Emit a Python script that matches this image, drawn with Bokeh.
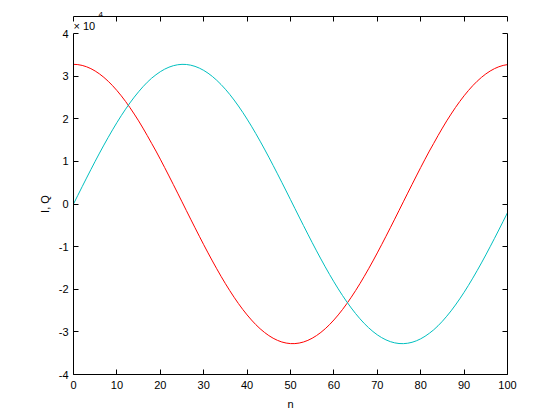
from bokeh.plotting import figure
from bokeh.models import Range1d, LinearAxis, FixedTicker, Title
from bokeh.embed import file_html
from bokeh.resources import INLINE

n = list(range(101))

I_vals = [
    32767, 32704, 32514, 32198, 31758, 31195, 30511, 29710, 28793, 27765,
    26629, 25390, 24053, 22623, 21098, 19507, 17810, 16054, 14233, 12422,
    10513, 8563, 6579, 4571, 2545, 510, -1528, -3560, -5579, -7575,
    -9542, -11472, -13358, -15193, -16969, -18679, -20317, -21876, -23349, -24733,
    -26022, -27209, -28292, -29265, -30124, -30868, -31491, -31993, -32372, -32624,
    -32751,
    -32751, -32624, -32372, -31993, -31491, -30868, -30124, -29265, -28292, -27209,
    -26022, -24733, -23349, -21876, -20317, -18679, -16969, -15193, -13358, -11472,
    -9542, -7575, -5579, -3560, -1528, 510, 2545, 4571, 6579, 8563,
    10513, 12422, 14233, 16054, 17810, 19507, 21098, 22623, 24053, 25390,
    26629, 27765, 28793, 29710, 30511, 31195, 31758, 32198, 32514, 32704,
]

Q_vals = [
    0, 2037, 4067, 6080, 8070, 10028, 11948, 13821, 15641, 17401,
    19094, 20713, 22251, 23704, 25071, 26329, 27505, 28565, 29516, 30321,
    31035, 31629, 32100, 32447, 32668, 32763, 32731, 32573, 32289, 31879,
    31347, 30693, 29920, 29032, 28031, 26921, 25708, 24395, 22990, 21494,
    19913, 18257, 16530, 14740, 12892, 10994, 9054, 7078, 5076, 3054,
    1019,
    -1019, -3054, -5076, -7078, -9054, -10994, -12892, -14740, -16530, -18257,
    -19913, -21494, -22990, -24395, -25708, -26921, -28031, -29032, -29920, -30693,
    -31347, -31879, -32289, -32573, -32731, -32763, -32668, -32447, -32100, -31629,
    -31035, -30321, -29516, -28565, -27505, -26329, -25071, -23704, -22251, -20713,
    -19094, -17401, -15641, -13821, -11948, -10028, -8070, -6080, -4067, -2037,
]

x_ticks = [0, 10, 20, 30, 40, 50, 60, 70, 80, 90, 100]
y_ticks = [-40000, -30000, -20000, -10000, 0, 10000, 20000, 30000, 40000]
y_tick_labels = ["-4", "-3", "-2", "-1", "0", "1", "2", "3", "4"]

FONT = "Liberation Sans"

p = figure(width=552, height=412, output_backend="svg", toolbar_location=None,
           x_range=Range1d(0, 100), y_range=Range1d(-40000, 40000),
           min_border_left=73, min_border_right=45, min_border_top=33, min_border_bottom=38,
           x_axis_label="n", y_axis_label="I, Q",
           title="4")
p.xgrid.visible = False
p.ygrid.visible = False
p.outline_line_color = None
p.background_fill_color = "white"
p.border_fill_color = "white"

# exponent (outermost row)
p.title.align = "left"
p.title.text_font = FONT
p.title.text_font_size = "8px"
p.title.text_font_style = "normal"
p.title.text_color = "black"
p.title.offset = 25
p.title.standoff = 0

# multiplier row, just above the top axis
mult_title = Title(text="× 10", align="left", offset=0, standoff=3,
                   text_font=FONT, text_font_size="11px", text_font_style="normal",
                   text_color="black")
p.add_layout(mult_title, "above")

p.line(n, I_vals, line_color="#FF0000", line_width=1)
p.line(n, Q_vals, line_color="#00BFBF", line_width=1)

bottom_axis = p.below[0]
left_axis = p.left[0]
top_axis = LinearAxis()
right_axis = LinearAxis()
p.add_layout(top_axis, "above")
p.add_layout(right_axis, "right")

for ax in (bottom_axis, top_axis):
    ax.ticker = FixedTicker(ticks=x_ticks)
for ax in (left_axis, right_axis):
    ax.ticker = FixedTicker(ticks=y_ticks)

for ax in (bottom_axis, left_axis, top_axis, right_axis):
    ax.major_tick_in = 5
    ax.major_tick_out = 0
    ax.minor_tick_in = 0
    ax.minor_tick_out = 0
    ax.axis_line_color = "black"
    ax.major_tick_line_color = "black"
    ax.major_label_text_font = FONT
    ax.major_label_text_font_size = "11px"
    ax.major_label_text_color = "black"
    ax.axis_label_text_font = FONT
    ax.axis_label_text_font_size = "11px"
    ax.axis_label_text_font_style = "normal"
    ax.axis_label_text_color = "black"

bottom_axis.major_label_standoff = 6
bottom_axis.axis_label_standoff = 6
left_axis.major_label_standoff = 5
left_axis.axis_label_standoff = 5
left_axis.major_label_overrides = dict(zip(y_ticks, y_tick_labels))

top_axis.major_label_overrides = {t: "" for t in x_ticks}
right_axis.major_label_overrides = {t: "" for t in y_ticks}
top_axis.major_label_standoff = 0
right_axis.major_label_standoff = 0

open("out.html", "w").write(file_html(p, INLINE))
